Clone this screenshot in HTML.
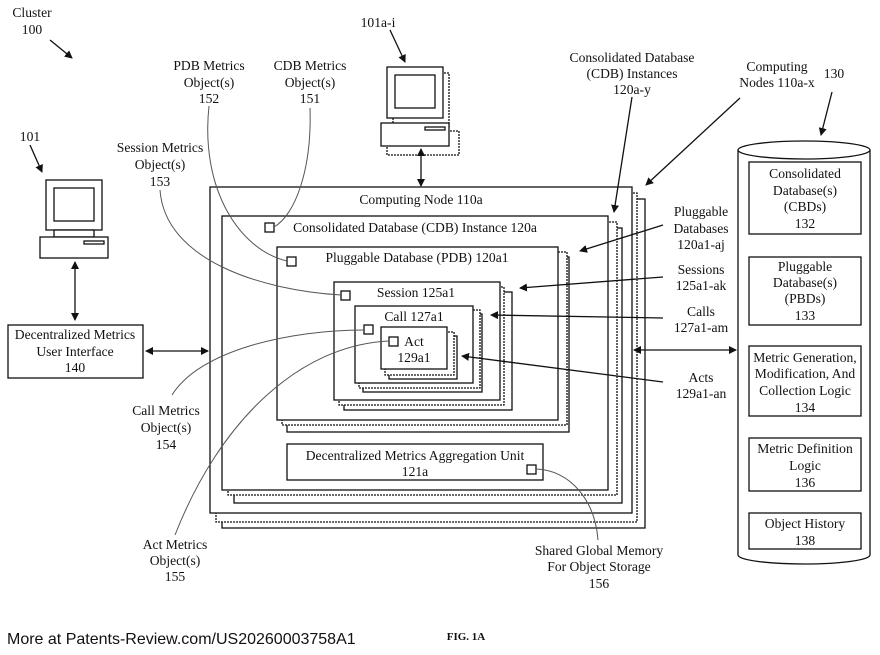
<!DOCTYPE html>
<html><head><meta charset="utf-8"><style>
body{margin:0;background:#fff}
svg{display:block}
text{font-family:"Liberation Serif",serif;font-size:13.6px;fill:#111}
</style></head><body>
<svg width="880" height="655" viewBox="0 0 880 655" xmlns="http://www.w3.org/2000/svg">
<defs><marker id="a" markerWidth="8" markerHeight="8" refX="7" refY="4" orient="auto" markerUnits="userSpaceOnUse"><path d="M0,0 L8,4 L0,8 Z" fill="#111"/></marker>
<marker id="s" markerWidth="8" markerHeight="8" refX="1" refY="4" orient="auto" markerUnits="userSpaceOnUse"><path d="M8,0 L0,4 L8,8 Z" fill="#111"/></marker></defs>
<g fill="#fff" stroke="#111" stroke-width="1.3">
<rect x="222" y="199" width="423" height="329"/>
<rect x="216" y="193" width="421" height="329" stroke-dasharray="2,1"/>
<rect x="210" y="187" width="422" height="326"/>
<rect x="234" y="228" width="388" height="275"/>
<rect x="228" y="222" width="389" height="273" stroke-dasharray="2,1"/>
<rect x="222" y="216" width="386" height="274"/>
<rect x="287" y="257" width="282" height="175"/>
<rect x="282" y="252" width="285" height="173" stroke-dasharray="2,1"/>
<rect x="277" y="247" width="281" height="173"/>
<rect x="344" y="292" width="168" height="118"/>
<rect x="339" y="287" width="165" height="118" stroke-dasharray="2,1"/>
<rect x="334" y="282" width="166" height="118"/>
<rect x="363" y="314" width="119" height="78"/>
<rect x="359" y="310" width="121" height="78" stroke-dasharray="2,1"/>
<rect x="355" y="306" width="118" height="77"/>
<rect x="389" y="336" width="68" height="43"/>
<rect x="385" y="332" width="69" height="43" stroke-dasharray="2,1"/>
<rect x="381" y="327" width="66" height="42"/>
<rect x="287" y="444" width="256" height="36"/>
<rect x="265" y="223" width="9" height="9"/>
<rect x="287" y="257" width="9" height="9"/>
<rect x="341" y="291" width="9" height="9"/>
<rect x="364" y="325" width="9" height="9"/>
<rect x="389" y="337" width="9" height="9"/>
<rect x="527" y="465" width="9" height="9"/>
<rect x="46" y="180" width="56" height="50"/>
<rect x="54" y="188" width="40" height="33"/>
<rect x="54" y="230" width="40" height="7"/>
<rect x="40" y="237" width="68" height="21"/>
<rect x="84" y="241" width="20" height="3"/>
<rect x="8" y="325" width="135" height="53"/>
<rect x="393" y="73" width="56" height="53" stroke-dasharray="2,1"/>
<rect x="387" y="131" width="72" height="24" stroke-dasharray="2,1"/>
<rect x="387" y="67" width="56" height="51"/>
<rect x="395" y="75" width="40" height="33"/>
<rect x="381" y="123" width="68" height="23"/>
<rect x="425" y="127" width="20" height="3"/>
<path d="M738,150 L738,555 A66,9 0 0 0 870,555 L870,150"/>
<ellipse cx="804" cy="150" rx="66" ry="9"/>
<rect x="749" y="162" width="112" height="72"/>
<rect x="749" y="257" width="112" height="68"/>
<rect x="749" y="346" width="112" height="70"/>
<rect x="749" y="438" width="112" height="53"/>
<rect x="749" y="513" width="112" height="36"/>
</g>
<g fill="none" stroke="#111" stroke-width="1.3">
<line x1="75" y1="262" x2="75" y2="320" marker-start="url(#s)" marker-end="url(#a)"/>
<line x1="146" y1="351" x2="208" y2="351" marker-start="url(#s)" marker-end="url(#a)"/>
<line x1="421" y1="149" x2="421" y2="186" marker-start="url(#s)" marker-end="url(#a)"/>
<line x1="634" y1="350" x2="736" y2="350" marker-start="url(#s)" marker-end="url(#a)"/>
<line x1="663" y1="225" x2="580" y2="251" marker-end="url(#a)"/>
<line x1="663" y1="277" x2="520" y2="288" marker-end="url(#a)"/>
<line x1="663" y1="318" x2="491" y2="315" marker-end="url(#a)"/>
<line x1="663" y1="382" x2="462" y2="356" marker-end="url(#a)"/>
<line x1="50" y1="40" x2="72" y2="58" marker-end="url(#a)"/>
<line x1="30" y1="145" x2="42" y2="172" marker-end="url(#a)"/>
<line x1="390" y1="30" x2="405" y2="62" marker-end="url(#a)"/>
<line x1="632" y1="97" x2="614" y2="212" marker-end="url(#a)"/>
<line x1="740" y1="98" x2="646" y2="185" marker-end="url(#a)"/>
<line x1="832" y1="92" x2="821" y2="135" marker-end="url(#a)"/>
</g>
<g fill="none" stroke="#555" stroke-width="1">
<path d="M310,108 C312,170 295,215 274,227"/>
<path d="M209,106 C200,190 240,250 287,261"/>
<path d="M160,190 C165,260 260,290 341,295"/>
<path d="M172,395 C200,350 290,330 364,330"/>
<path d="M175,535 C220,420 300,345 389,341"/>
<path d="M536,469 C570,470 595,500 598,540"/>
</g>
<g text-anchor="middle">
<text x="32" y="17">Cluster</text><text x="32" y="34">100</text>
<text x="30" y="141">101</text>
<text x="378" y="27">101a-i</text>
<text x="209" y="70">PDB Metrics</text><text x="209" y="87">Object(s)</text><text x="209" y="103">152</text>
<text x="310" y="70">CDB Metrics</text><text x="310" y="87">Object(s)</text><text x="310" y="103">151</text>
<text x="160" y="152">Session Metrics</text><text x="160" y="169">Object(s)</text><text x="160" y="186">153</text>
<text x="632" y="62">Consolidated Database</text><text x="632" y="78">(CDB) Instances</text><text x="632" y="94">120a-y</text>
<text x="777" y="71">Computing</text><text x="777" y="87">Nodes 110a-x</text>
<text x="834" y="78">130</text>
<text x="421" y="204">Computing Node 110a</text>
<text x="415" y="232">Consolidated Database (CDB) Instance 120a</text>
<text x="417" y="262">Pluggable Database (PDB) 120a1</text>
<text x="416" y="297">Session 125a1</text>
<text x="414" y="321">Call  127a1</text>
<text x="414" y="346">Act</text><text x="414" y="362">129a1</text>
<text x="415" y="460">Decentralized Metrics Aggregation Unit</text><text x="415" y="476">121a</text>
<text x="75" y="339">Decentralized Metrics</text><text x="75" y="356">User Interface</text><text x="75" y="372">140</text>
<text x="701" y="216">Pluggable</text><text x="701" y="233">Databases</text><text x="701" y="249">120a1-aj</text>
<text x="701" y="274">Sessions</text><text x="701" y="290">125a1-ak</text>
<text x="701" y="316">Calls</text><text x="701" y="332">127a1-am</text>
<text x="701" y="382">Acts</text><text x="701" y="398">129a1-an</text>
<text x="805" y="178">Consolidated</text><text x="805" y="195">Database(s)</text><text x="805" y="211">(CBDs)</text><text x="805" y="228">132</text>
<text x="805" y="271">Pluggable</text><text x="805" y="287">Database(s)</text><text x="805" y="303">(PBDs)</text><text x="805" y="320">133</text>
<text x="805" y="362">Metric Generation,</text><text x="805" y="378">Modification, And</text><text x="805" y="395">Collection Logic</text><text x="805" y="412">134</text>
<text x="805" y="453">Metric Definition</text><text x="805" y="470">Logic</text><text x="805" y="487">136</text>
<text x="805" y="528">Object History</text><text x="805" y="545">138</text>
<text x="166" y="415">Call Metrics</text><text x="166" y="432">Object(s)</text><text x="166" y="449">154</text>
<text x="175" y="549">Act Metrics</text><text x="175" y="565">Object(s)</text><text x="175" y="581">155</text>
<text x="599" y="555">Shared Global Memory</text><text x="599" y="571">For Object Storage</text><text x="599" y="588">156</text>
<text x="466" y="640" style="font-size:11px;font-weight:bold">FIG. 1A</text>
</g>
<text x="7" y="644" style="font-family:'Liberation Sans',sans-serif;font-size:16px">More at Patents-Review.com/US20260003758A1</text>
</svg>
</body></html>
